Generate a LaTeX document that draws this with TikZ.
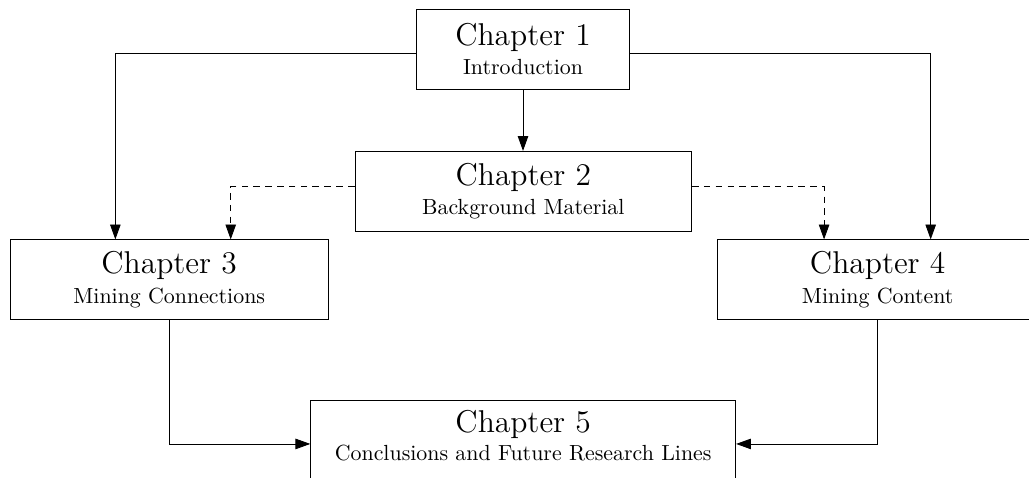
\documentclass[tikz,border=0pt]{standalone}
\usetikzlibrary{arrows.meta}
\tikzset{
  chapbox/.style={draw, rectangle, inner sep=0pt, minimum height=36.4pt, align=center},
  arr/.style={-{Triangle[length=6.8pt,width=4.8pt]}},
  dsh/.style={arr, dash pattern=on 3pt off 2.4pt}
}
\begin{document}
\begin{tikzpicture}[x=0.4568pt, y=-0.4568pt]
\useasboundingbox (0,0) rectangle (1029,477);
\node[chapbox, minimum width=97.1pt]  (ch1) at (523,49.3)   {{\Large Chapter 1}\\[1.4pt]Introduction};
\node[chapbox, minimum width=153.8pt] (ch2) at (523.3,191.2) {{\Large Chapter 2}\\[1.4pt]Background Material};
\node[chapbox, minimum width=145.4pt] (ch3) at (169.2,279.7) {{\Large Chapter 3}\\[1.6pt]Mining Connections};
\node[chapbox, minimum width=146.2pt] (ch4) at (877.7,279.7) {{\Large Chapter 4}\\[1.6pt]Mining Content};
\node[chapbox, minimum width=194.1pt, text depth=4.1pt] (ch5) at (523.2,440) {{\Large Chapter 5}\\[0.9pt]Conclusions and Future Research Lines};
\draw[arr] (ch1.south) -- (ch1.south |- ch2.north);
\draw[arr] ([yshift=-1.9pt]ch1.west) -| ([xshift=-24.6pt]ch3.north);
\draw[arr] ([yshift=-1.9pt]ch1.east) -| ([xshift=24.2pt]ch4.north);
\draw[dsh] ([yshift=2.05pt]ch2.west) -| ([xshift=28.1pt]ch3.north);
\draw[dsh] ([yshift=2.05pt]ch2.east) -| ([xshift=-24.5pt]ch4.north);
\draw[arr] (ch3.south) |- ([yshift=-1.8pt]ch5.west);
\draw[arr] (ch4.south) |- ([yshift=-1.8pt]ch5.east);
\end{tikzpicture}
\end{document}
